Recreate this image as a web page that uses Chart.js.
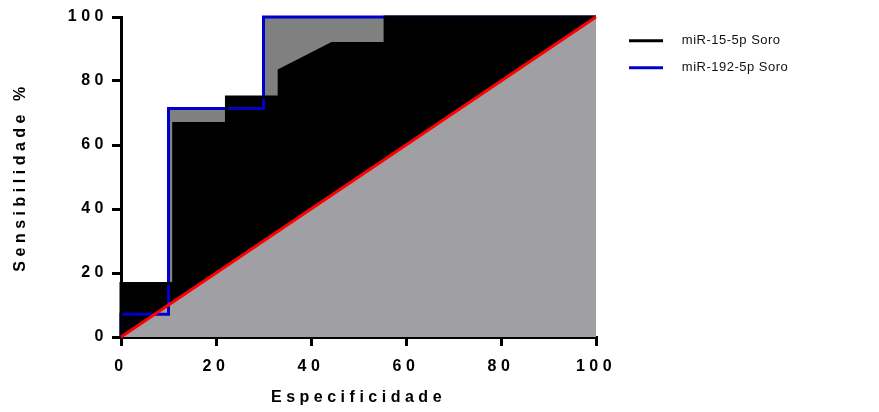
<!DOCTYPE html>
<html>
<head>
<meta charset="utf-8">
<script src="https://cdn.jsdelivr.net/npm/chart.js@4"></script>
<style>body{margin:0;background:#fff}</style>
</head>
<body>
<canvas id="roc" width="879" height="412"></canvas>
<script>
// curvas ROC (eixo x = especificidade, eixo y = sensibilidade)
var espec15  = [0, 0, 11.1, 11.1, 22.2, 22.2, 33.3, 33.3, 44.4, 55.6, 55.6, 100];
var sens15   = [0, 16.7, 16.7, 66.7, 66.7, 75, 75, 83.3, 91.7, 91.7, 100, 100];
var espec192 = [0, 0, 10, 10, 30, 30, 100];
var sens192  = [0, 7.1, 7.1, 71.4, 71.4, 100, 100];
var especRef = [0, 100];
var sensRef  = [0, 100];
var ticksX = [0, 20, 40, 60, 80, 100];
var ticksY = [0, 20, 40, 60, 80, 100];

function pontos(xs, ys) {
  return xs.map(function(x, i) { return {x: x, y: ys[i]}; });
}

var fonte = "'Liberation Sans', Arial, sans-serif";
var espacoEixos = '4.5px';
var espacoLegenda = '0.5px';

// espaçamento entre letras (o canvas perde o estado a cada resize)
// e ajuste da caixa da legenda
var espaco = {
  id: 'espaco',
  beforeUpdate: function(c) { c.ctx.letterSpacing = espacoEixos; },
  beforeLayout: function(c) {
    c.ctx.letterSpacing = espacoEixos;
    var lg = c.legend;
    if (lg && !lg.ajustado) {
      lg.ajustado = true;
      var fit0 = lg.fit, draw0 = lg.draw;
      lg.fit = function() {
        this.ctx.letterSpacing = espacoLegenda;
        fit0.apply(this, arguments);
        this.width = 283;
        this.ctx.letterSpacing = espacoEixos;
      };
      lg.draw = function() {
        var g = this.ctx;
        g.save();
        g.letterSpacing = espacoLegenda;
        g.translate(19, 0);
        draw0.apply(this, arguments);
        g.restore();
      };
    }
  },
  beforeDraw: function(c) { c.ctx.letterSpacing = espacoEixos; }
};

var ctx = document.getElementById('roc');

new Chart(ctx, {
  type: 'line',
  data: {
    datasets: [{
      label: 'ref', //diagonal
      data: pontos(especRef, sensRef),
      borderColor: '#ff0000',
      backgroundColor: '#a0a0a4',
      borderWidth: 3,
      fill: 'origin'
    }, {
      label: 'miR-15-5p Soro',
      data: pontos(espec15, sens15),
      borderColor: '#000000',
      backgroundColor: '#000000',
      borderWidth: 3,
      fill: 'origin'
    }, {
      label: 'miR-192-5p Soro',
      data: pontos(espec192, sens192),
      borderColor: '#0000c8',
      backgroundColor: '#808080',
      borderWidth: 3,
      fill: 'origin'
    }]
  },
  options: {
    responsive: false,
    devicePixelRatio: 1,
    animation: false,
    clip: false,
    elements: { point: { radius: 0 }, line: { tension: 0 } },
    layout: { padding: { top: 17, left: 0, right: 0, bottom: 0 } },
    plugins: {
      tooltip: { enabled: false },
      filler: { drawTime: 'beforeDatasetsDraw' },
      legend: {
        position: 'right',
        align: 'start',
        title: { display: true, text: ' ', font: { size: 1 }, padding: { top: 1, bottom: 1 } },
        labels: {
          boxWidth: 34,
          boxHeight: 3,
          padding: 14,
          color: '#111',
          font: { family: fonte, size: 13 },
          generateLabels: function(chart) {
            return Chart.defaults.plugins.legend.labels.generateLabels(chart)
              .filter(function(l) { return l.datasetIndex > 0; })
              .map(function(l) {
                l.fillStyle = l.strokeStyle;
                l.lineWidth = 0;
                l.text = '   ' + l.text;
                return l;
              });
          }
        }
      }
    },
    scales: {
      x: {
        type: 'linear',
        min: 0,
        max: 100,
        afterBuildTicks: function(s) { s.ticks = ticksX.map(function(v) { return {value: v}; }); },
        afterFit: function(s) { s.height = 75; },
        border: { display: true, color: '#000', width: 3 },
        grid: { drawOnChartArea: false, color: '#000', lineWidth: 3, tickLength: 9 },
        ticks: { color: '#000', padding: 11, maxRotation: 0, font: { family: fonte, size: 16, weight: 'bold' } },
        title: { display: true, text: 'Especificidade', color: '#000', padding: { top: 4, bottom: 5 },
                 font: { family: fonte, size: 16, weight: 'bold' } }
      },
      y: {
        min: 0,
        max: 100,
        afterBuildTicks: function(s) { s.ticks = ticksY.map(function(v) { return {value: v}; }); },
        afterFit: function(s) { s.width = 121; },
        border: { display: true, color: '#000', width: 3 },
        grid: { drawOnChartArea: false, color: '#000', lineWidth: 3, tickLength: 9 },
        ticks: { color: '#000', padding: 4, font: { family: fonte, size: 16, weight: 'bold' } },
        title: { display: true, text: 'Sensibilidade %', color: '#000', padding: { top: 11, bottom: 4 },
                 font: { family: fonte, size: 16, weight: 'bold' } }
      }
    }
  },
  plugins: [espaco]
});
</script>
</body>
</html>
